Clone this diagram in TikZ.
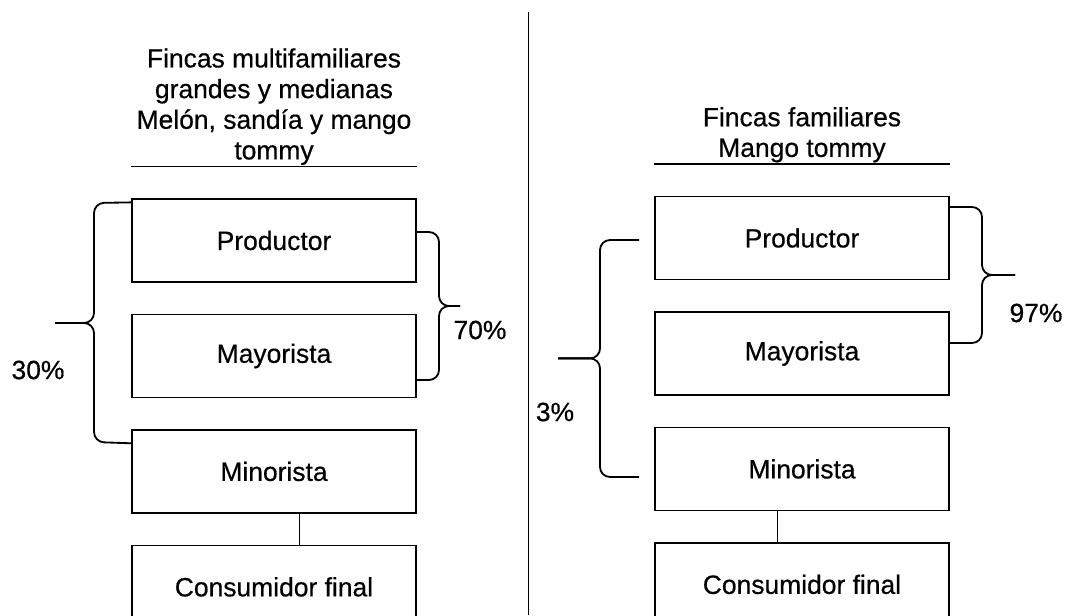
\documentclass[tikz,border=0pt]{standalone}
\usepackage{fontspec}
\setmainfont{Liberation Sans}[FakeBold=0.5]
\usetikzlibrary{positioning}

\begin{document}
\begin{tikzpicture}[
	every node/.style={font=\fontsize{18.8}{21.8}\selectfont},
	caja/.style={draw, line width=0.9pt, minimum height=2.075cm, inner sep=0pt},
	cajaizq/.style={caja, minimum width=7.1cm},
	cajader/.style={caja, minimum width=7.35cm},
	llave/.style={line width=1.3pt, rounded corners=0.25cm},
	node distance=0.78cm
	]
	\useasboundingbox (0,0) rectangle (26.65,-15.375);
	\clip (0,0) rectangle (26.65,-15.375);
	% division
	\draw[line width=0.7pt] (13.2,-0.3) -- (13.2,-15.375);
	% fincas multifamiliares
	\node[cajaizq] (prodI) at (6.85,-6.0125) {Productor};
	\node[cajaizq, below=of prodI] (mayI) {Mayorista};
	\node[cajaizq, below=of mayI] (minI) {Minorista};
	\node[cajaizq, below=of minI] (consI) {Consumidor final};
	\node[anchor=south, align=center, inner sep=0pt] (tituloI) at ([yshift=0.83cm]prodI.north) {Fincas multifamiliares\\grandes y medianas\\Melón, sandía y mango\\tommy};
	\draw[line width=0.9pt] ([yshift=0.8cm]prodI.north west) -- ([yshift=0.8cm]prodI.north east);
	\draw[line width=0.6pt] ([xshift=0.625cm]minI.south) -- ([xshift=0.625cm]consI.north);
	\draw[llave] ([yshift=-0.1cm]prodI.north west) -- (2.35,-5.075) -- (2.35,-8.075) -- (1.375,-8.075);
	\draw[llave] ([yshift=-0.35cm]minI.north west) -- (2.35,-11.05) -- (2.35,-8.075) -- (1.375,-8.075);
	\draw[llave] (prodI.east |- 0,-5.8) -- (10.975,-5.8) -- (10.975,-7.65) -- (11.5,-7.65);
	\draw[llave] (mayI.east |- 0,-9.5) -- (10.975,-9.5) -- (10.975,-7.65) -- (11.5,-7.65);
	\node (p30) at (0.95,-9.25) {30\%};
	\node (p70) at (12.0,-8.25) {70\%};
	% fincas familiares
	\node[cajader] (prodD) at (20.05,-5.95) {Productor};
	\node[cajader, below=of prodD] (mayD) {Mayorista};
	\node[cajader, below=of mayD] (minD) {Minorista};
	\node[cajader, below=of minD] (consD) {Consumidor final};
	\node[anchor=south, align=center, inner sep=0pt] (tituloD) at ([yshift=0.83cm]prodD.north) {Fincas familiares\\Mango tommy};
	\draw[line width=0.9pt] ([yshift=0.8cm]prodD.north west) -- ([yshift=0.8cm]prodD.north east);
	\draw[line width=0.6pt] ([xshift=-0.625cm]minD.south) -- ([xshift=-0.625cm]consD.north);
	\draw[llave] (15.975,-6.0) -- (15.0,-6.0) -- (15.0,-8.96) -- (13.95,-8.96);
	\draw[llave] (15.975,-11.925) -- (15.0,-11.925) -- (15.0,-8.96) -- (13.95,-8.96);
	\draw[llave] (prodD.east |- 0,-5.175) -- (24.55,-5.175) -- (24.55,-6.875) -- (25.375,-6.875);
	\draw[llave] (mayD.east |- 0,-8.575) -- (24.55,-8.575) -- (24.55,-6.875) -- (25.375,-6.875);
	\node (p97) at (25.9,-7.825) {97\%};
	\node (p3) at (13.875,-10.3) {3\%};
\end{tikzpicture}
\end{document}
